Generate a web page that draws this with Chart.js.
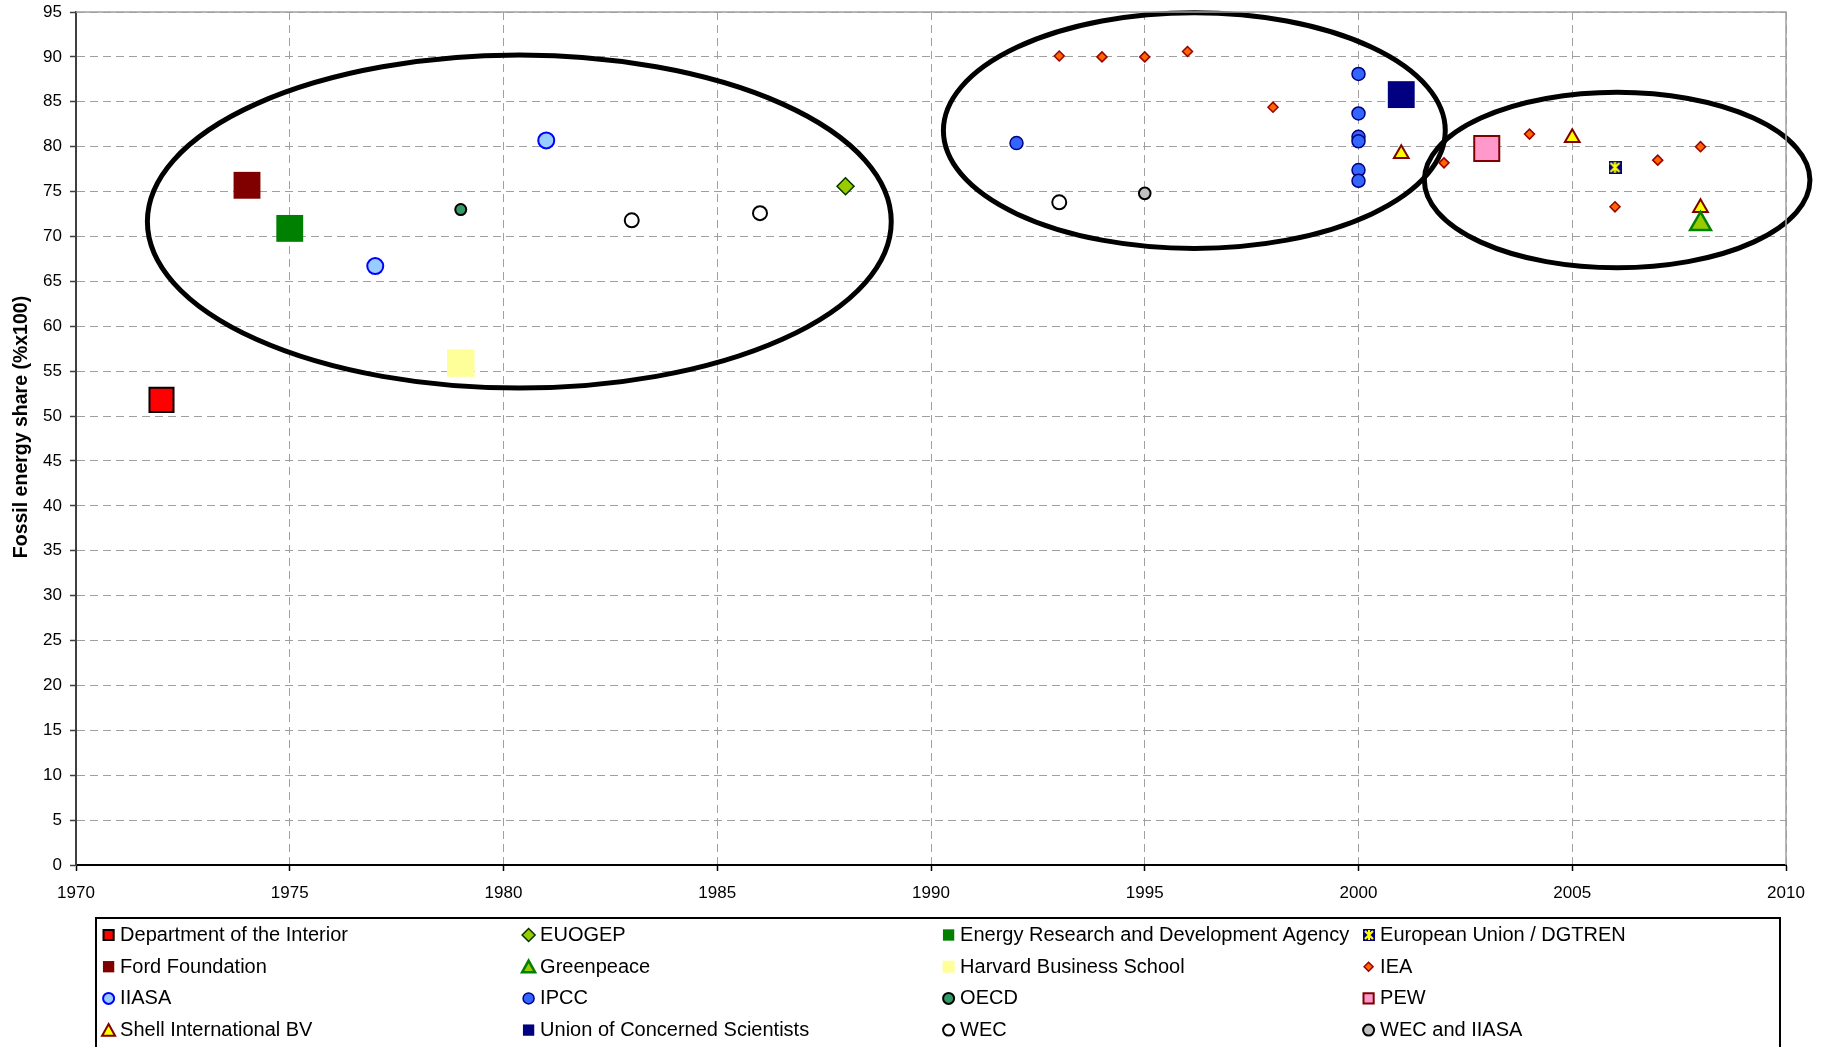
<!DOCTYPE html>
<html>
<head>
<meta charset="utf-8">
<title>Fossil energy share projections</title>
<script src="https://cdn.jsdelivr.net/npm/chart.js@4/dist/chart.umd.min.js"></script>
<style>
  html, body { margin: 0; padding: 0; background: #ffffff; }
  #wrap { position: relative; width: 1830px; height: 1047px; }
</style>
</head>
<body>
<div id="wrap"><canvas id="chart" width="1830" height="1047"></canvas></div>
<script>
// ---- data: [year, fossil energy share] per source ----
const deptInterior   = [[1972, 51.8]];
const euogep         = [[1988, 75.6]];
const erda           = [[1975, 70.9]];
const euDgtren       = [[2006, 77.7]];
const fordFoundation = [[1974, 75.7]];
const greenpeace     = [[2008, 71.4]];
const harvard        = [[1979, 55.9]];
const iea            = [[1993, 90.1], [1994, 90.0], [1995, 90.0], [1996, 90.6], [1998, 84.4],
                        [2002, 78.2], [2004, 81.4], [2006, 73.3], [2007, 78.5], [2008, 80.0]];
const iiasa          = [[1977, 66.7], [1981, 80.7]];
const ipcc           = [[1992, 80.4], [2000, 88.1], [2000, 83.7], [2000, 81.1], [2000, 80.6],
                        [2000, 77.4], [2000, 76.2]];
const oecd           = [[1979, 73.0]];
const pew            = [[2003, 79.8]];
const shell          = [[2001, 79.2], [2005, 81.0], [2008, 73.2]];
const ucs            = [[2001, 85.8]];
const wec            = [[1983, 71.8], [1986, 72.6], [1993, 73.8]];
const wecIiasa       = [[1995, 74.8]];

const sourceNames = [
  'Department of the Interior', 'EUOGEP', 'Energy Research and Development Agency', 'European Union / DGTREN',
  'Ford Foundation', 'Greenpeace', 'Harvard Business School', 'IEA',
  'IIASA', 'IPCC', 'OECD', 'PEW',
  'Shell International BV', 'Union of Concerned Scientists', 'WEC', 'WEC and IIASA'
];
const sourceSeries = [
  deptInterior, euogep, erda, euDgtren,
  fordFoundation, greenpeace, harvard, iea,
  iiasa, ipcc, oecd, pew,
  shell, ucs, wec, wecIiasa
];

const xTickYears = [1970, 1975, 1980, 1985, 1990, 1995, 2000, 2005, 2010];
const yTickValues = [0, 5, 10, 15, 20, 25, 30, 35, 40, 45, 50, 55, 60, 65, 70, 75, 80, 85, 90, 95];

// grouping outlines: centre year, centre share, half-width (years), half-height (share)
const groupOutlines = [
  { cx: 1980.37, cy: 71.66, rx: 8.70, ry: 18.54 },
  { cx: 1996.16, cy: 81.79, rx: 5.87, ry: 13.12 },
  { cx: 2006.05, cy: 76.28, rx: 4.51, ry: 9.77 }
];

// ---- marker for the EU / DGTREN series: navy tile with a yellow asterisk ----
function starTile(size) {
  const c = document.createElement('canvas');
  c.width = size; c.height = size;
  const g = c.getContext('2d');
  g.fillStyle = '#000080';
  g.fillRect(0, 0, size, size);
  g.strokeStyle = '#FFFF00';
  g.lineWidth = 2.2;
  g.beginPath();
  g.moveTo(2, 2); g.lineTo(size - 2, size - 2);
  g.moveTo(size - 2, 2); g.lineTo(2, size - 2);
  g.moveTo(size / 2, 1); g.lineTo(size / 2, size - 1);
  g.stroke();
  return c;
}
const starBig = starTile(13);
const starSmall = starTile(12);

// ---- marker styles per source (same order as sourceNames) ----
const markerStyles = [
  { shape: 'rect',     r: 17,   fill: '#FF0000', stroke: '#000000', bw: 2,   lr: 7.2 },
  { shape: 'rectRot',  r: 8.5,  fill: '#99CC00', stroke: '#003300', bw: 1.5, lr: 6.5 },
  { shape: 'rect',     r: 19,   fill: '#008000', stroke: '#008000', bw: 0,   lr: 8 },
  { shape: 'star',     r: 7,    fill: '#000080', stroke: '#FFFF00', bw: 0,   lr: 6 },
  { shape: 'rect',     r: 19,   fill: '#800000', stroke: '#800000', bw: 0,   lr: 8 },
  { shape: 'triangle', r: 12,   fill: '#99CC00', stroke: '#008000', bw: 2.5, lr: 7.5 },
  { shape: 'rect',     r: 19.5, fill: '#FFFF99', stroke: '#FFFF99', bw: 0,   lr: 8.5 },
  { shape: 'rectRot',  r: 5,    fill: '#FF6600', stroke: '#990000', bw: 1.5, lr: 4.5 },
  { shape: 'circle',   r: 8,    fill: '#99CCFF', stroke: '#0000FF', bw: 2,   lr: 5.5 },
  { shape: 'circle',   r: 6.5,  fill: '#3366FF', stroke: '#000080', bw: 1.5, lr: 5.5 },
  { shape: 'circle',   r: 5.5,  fill: '#339966', stroke: '#000000', bw: 2,   lr: 5.5 },
  { shape: 'rect',     r: 17.7, fill: '#FF99CC', stroke: '#800000', bw: 2,   lr: 7.2 },
  { shape: 'triangle', r: 8.5,  fill: '#FFFF00', stroke: '#800000', bw: 2,   lr: 7.5 },
  { shape: 'rect',     r: 19,   fill: '#000080', stroke: '#000080', bw: 0,   lr: 8 },
  { shape: 'circle',   r: 7,    fill: '#FFFFFF', stroke: '#000000', bw: 2,   lr: 5.5 },
  { shape: 'circle',   r: 5.8,  fill: '#C0C0C0', stroke: '#000000', bw: 2,   lr: 5.5 }
];

const FONT = '"Liberation Sans", Arial, Helvetica, sans-serif';

const datasets = sourceNames.map((name, i) => {
  const m = markerStyles[i];
  return {
    label: name,
    data: sourceSeries[i].map(([x, y]) => ({ x, y })),
    pointStyle: m.shape === 'star' ? starBig : m.shape,
    pointRadius: m.r,
    pointHoverRadius: m.r,
    pointBackgroundColor: m.fill,
    pointBorderColor: m.stroke,
    pointBorderWidth: m.bw,
    showLine: false
  };
});

// ---- outlines around the three groups of projections ----
const outlinePlugin = {
  id: 'groupOutlines',
  beforeDatasetsDraw(chart) {
    const { ctx, scales: { x, y } } = chart;
    ctx.save();
    ctx.strokeStyle = '#000000';
    ctx.lineWidth = 5;
    groupOutlines.forEach(o => {
      const px = x.getPixelForValue(o.cx);
      const py = y.getPixelForValue(o.cy);
      const rx = Math.abs(x.getPixelForValue(o.cx + o.rx) - px);
      const ry = Math.abs(y.getPixelForValue(o.cy + o.ry) - py);
      ctx.beginPath();
      ctx.ellipse(px, py, rx, ry, 0, 0, Math.PI * 2);
      ctx.stroke();
    });
    ctx.restore();
  }
};

// ---- frame, axis title and the boxed four-column legend ----
function drawMarker(ctx, m, x, y) {
  ctx.save();
  if (m.shape === 'star') {
    ctx.drawImage(starSmall, Math.round(x - starSmall.width / 2), Math.round(y - starSmall.height / 2));
    ctx.restore();
    return;
  }
  const r = m.lr;
  ctx.fillStyle = m.fill;
  ctx.strokeStyle = m.stroke;
  ctx.lineWidth = m.bw;
  ctx.beginPath();
  if (m.shape === 'rect') {
    const s = r * Math.SQRT1_2;
    ctx.rect(x - s, y - s, 2 * s, 2 * s);
  } else if (m.shape === 'rectRot') {
    ctx.moveTo(x - r, y); ctx.lineTo(x, y - r); ctx.lineTo(x + r, y); ctx.lineTo(x, y + r); ctx.closePath();
  } else if (m.shape === 'triangle') {
    const h = r * 0.866;
    ctx.moveTo(x, y - r * 0.75 - 0.5); ctx.lineTo(x + h, y + r * 0.75); ctx.lineTo(x - h, y + r * 0.75); ctx.closePath();
  } else {
    ctx.arc(x, y, r, 0, Math.PI * 2);
  }
  ctx.fill();
  if (m.bw > 0) ctx.stroke();
  ctx.restore();
}

const decorPlugin = {
  id: 'decor',
  afterDraw(chart) {
    const { ctx, chartArea: a } = chart;
    ctx.save();
    // grey frame on top and right of the plot
    ctx.strokeStyle = '#A0A0A0';
    ctx.lineWidth = 1.5;
    ctx.beginPath();
    ctx.moveTo(a.left, a.top);
    ctx.lineTo(a.right, a.top);
    ctx.lineTo(a.right, a.bottom);
    ctx.stroke();

    // vertical axis title
    ctx.fillStyle = '#000000';
    ctx.font = 'bold 19.5px ' + FONT;
    ctx.textAlign = 'center';
    ctx.textBaseline = 'middle';
    ctx.translate(22, 427);
    ctx.rotate(-Math.PI / 2);
    ctx.fillText('Fossil energy share (%x100)', 0, 0);
    ctx.restore();

    // legend box
    ctx.save();
    ctx.strokeStyle = '#000000';
    ctx.lineWidth = 2;
    ctx.strokeRect(96, 918, 1684, 140);
    ctx.font = '20px ' + FONT;
    ctx.fillStyle = '#000000';
    ctx.textAlign = 'left';
    ctx.textBaseline = 'middle';
    sourceNames.forEach((name, i) => {
      const col = i % 4, row = Math.floor(i / 4);
      const mx = 108.6 + col * 420;
      const my = 935 + row * 31.7;
      drawMarker(ctx, markerStyles[i], mx, my);
      ctx.fillStyle = '#000000';
      ctx.fillText(name, mx + 11.5, my + 0.5);
    });
    ctx.restore();
  }
};

new Chart(document.getElementById('chart'), {
  type: 'scatter',
  data: { datasets },
  options: {
    responsive: false,
    devicePixelRatio: 1,
    animation: false,
    events: [],
    // large square markers would otherwise enlarge the outer padding
    layout: { autoPadding: false, padding: { left: 0, top: 12, right: 44, bottom: 0 } },
    plugins: { legend: { display: false }, tooltip: { enabled: false } },
    scales: {
      x: {
        type: 'linear',
        min: xTickYears[0],
        max: xTickYears[xTickYears.length - 1],
        afterBuildTicks: s => { s.ticks = xTickYears.map(v => ({ value: v })); },
        afterFit: s => { s.height = 182; },
        ticks: {
          color: '#000000',
          font: { family: FONT, size: 17 },
          padding: 12,
          maxRotation: 0,
          callback: v => String(v)
        },
        grid: { color: '#A0A0A0', lineWidth: 1, tickLength: 6, tickColor: '#000000', tickWidth: 1.5 },
        border: { display: true, color: '#000000', width: 2, dash: [8, 5] }
      },
      y: {
        type: 'linear',
        min: yTickValues[0],
        max: yTickValues[yTickValues.length - 1],
        afterBuildTicks: s => { s.ticks = yTickValues.map(v => ({ value: v })); },
        afterFit: s => { s.width = 76; },
        ticks: {
          color: '#000000',
          // single-line labels: a small line height keeps the top label from pushing the plot down
          font: { family: FONT, size: 17, lineHeight: 0.4 },
          padding: 8,
          callback: v => String(v)
        },
        grid: { color: '#A0A0A0', lineWidth: 1, tickLength: 6, tickColor: '#404040', tickWidth: 1.5 },
        border: { display: true, color: '#404040', width: 2, dash: [8, 5] }
      }
    }
  },
  plugins: [outlinePlugin, decorPlugin]
});
</script>
</body>
</html>
